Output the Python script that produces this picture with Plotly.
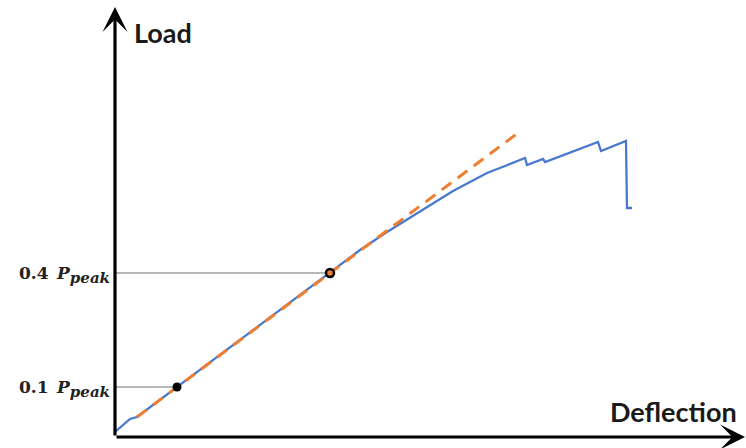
import plotly.graph_objects as go

# Load-deflection response (deflection in mm, load in kN)
deflection = [0.00, 0.07, 0.15, 0.22, 0.62, 1.40, 2.15, 2.45, 2.72, 2.90, 3.05, 3.22,
              3.38, 3.55, 3.72, 3.90, 4.05, 4.10, 4.12, 4.28, 4.30, 4.83, 4.86,
              5.11, 5.12, 5.17]
load = [0.5, 1.1, 1.8, 2.0, 5.0, 10.8, 16.5, 18.7, 20.5, 21.6, 22.6, 23.6,
        24.6, 25.5, 26.4, 27.1, 27.7, 27.9, 27.2, 27.8, 27.5, 29.5, 28.6,
        29.6, 22.9, 22.9]

# Linear fit of the elastic branch
fit_x = [0.22, 4.05]
fit_y = [2.0, 30.55]

# Reference load levels
ref_x = [0.62, 2.15]
ref_y = [5.0, 16.4]
ref_labels = ["0.1", "0.4"]

x_max, y_max = 6.31, 43.7

def level_label(k):
    return ("<b>" + k + "\u2002<i>P</i></b>"
            "<sub><span style='font-size:15px'><b><i>peak</i></b></span></sub>")

fig = go.Figure()

# Horizontal guide lines to the axis
for xv, yv in zip(ref_x, ref_y):
    fig.add_trace(go.Scatter(x=[0, xv], y=[yv, yv], mode="lines",
                             line=dict(color="#6e6e6e", width=1),
                             hoverinfo="skip", showlegend=False))

fig.add_trace(go.Scatter(x=deflection, y=load, mode="lines",
                         line=dict(color="#4a78cc", width=2.3),
                         showlegend=False))
fig.add_trace(go.Scatter(x=fit_x, y=fit_y, mode="lines",
                         line=dict(color="#ee7d30", width=3, dash="12px,8px"),
                         showlegend=False))

fig.add_trace(go.Scatter(x=[ref_x[0]], y=[ref_y[0]], mode="markers",
                         marker=dict(color="black", size=9),
                         showlegend=False))
fig.add_trace(go.Scatter(x=[ref_x[1]], y=[ref_y[1]], mode="markers",
                         marker=dict(color="#ee7d30", size=8,
                                     line=dict(color="black", width=2.5)),
                         showlegend=False))

# Axis arrows
fig.add_annotation(x=0, y=43.0, ax=0, ay=0, xref="x", yref="y",
                   axref="x", ayref="y", text="", showarrow=True,
                   arrowhead=3, arrowsize=1.3, arrowwidth=3.2, arrowcolor="black")
fig.add_annotation(x=6.30, y=0, ax=0, ay=0, xref="x", yref="y",
                   axref="x", ayref="y", text="", showarrow=True,
                   arrowhead=3, arrowsize=1.3, arrowwidth=3.2, arrowcolor="black")

fig.add_annotation(x=0.48, y=40.5, xref="x", yref="y", text="<b>Load</b>",
                   showarrow=False, font=dict(family="Lato", size=27, color="#1a1a1a"))
fig.add_annotation(x=5.58, y=2.6, xref="x", yref="y", text="<b>Deflection</b>",
                   showarrow=False, font=dict(family="Lato", size=27, color="#1a1a1a"))

fig.update_xaxes(range=[0, x_max], visible=False, fixedrange=True)
fig.update_yaxes(range=[0, y_max], showgrid=False, zeroline=False, showline=False,
                 tickvals=ref_y, ticktext=[level_label(k) for k in ref_labels],
                 ticks="", automargin=False, ticklabelstandoff=4,
                 tickfont=dict(family="DejaVu Serif", size=17, color="#222"))

fig.update_layout(width=746, height=448,
                  margin=dict(l=115, r=0, t=0, b=11),
                  paper_bgcolor="white", plot_bgcolor="white")

fig.write_html("out.html")
